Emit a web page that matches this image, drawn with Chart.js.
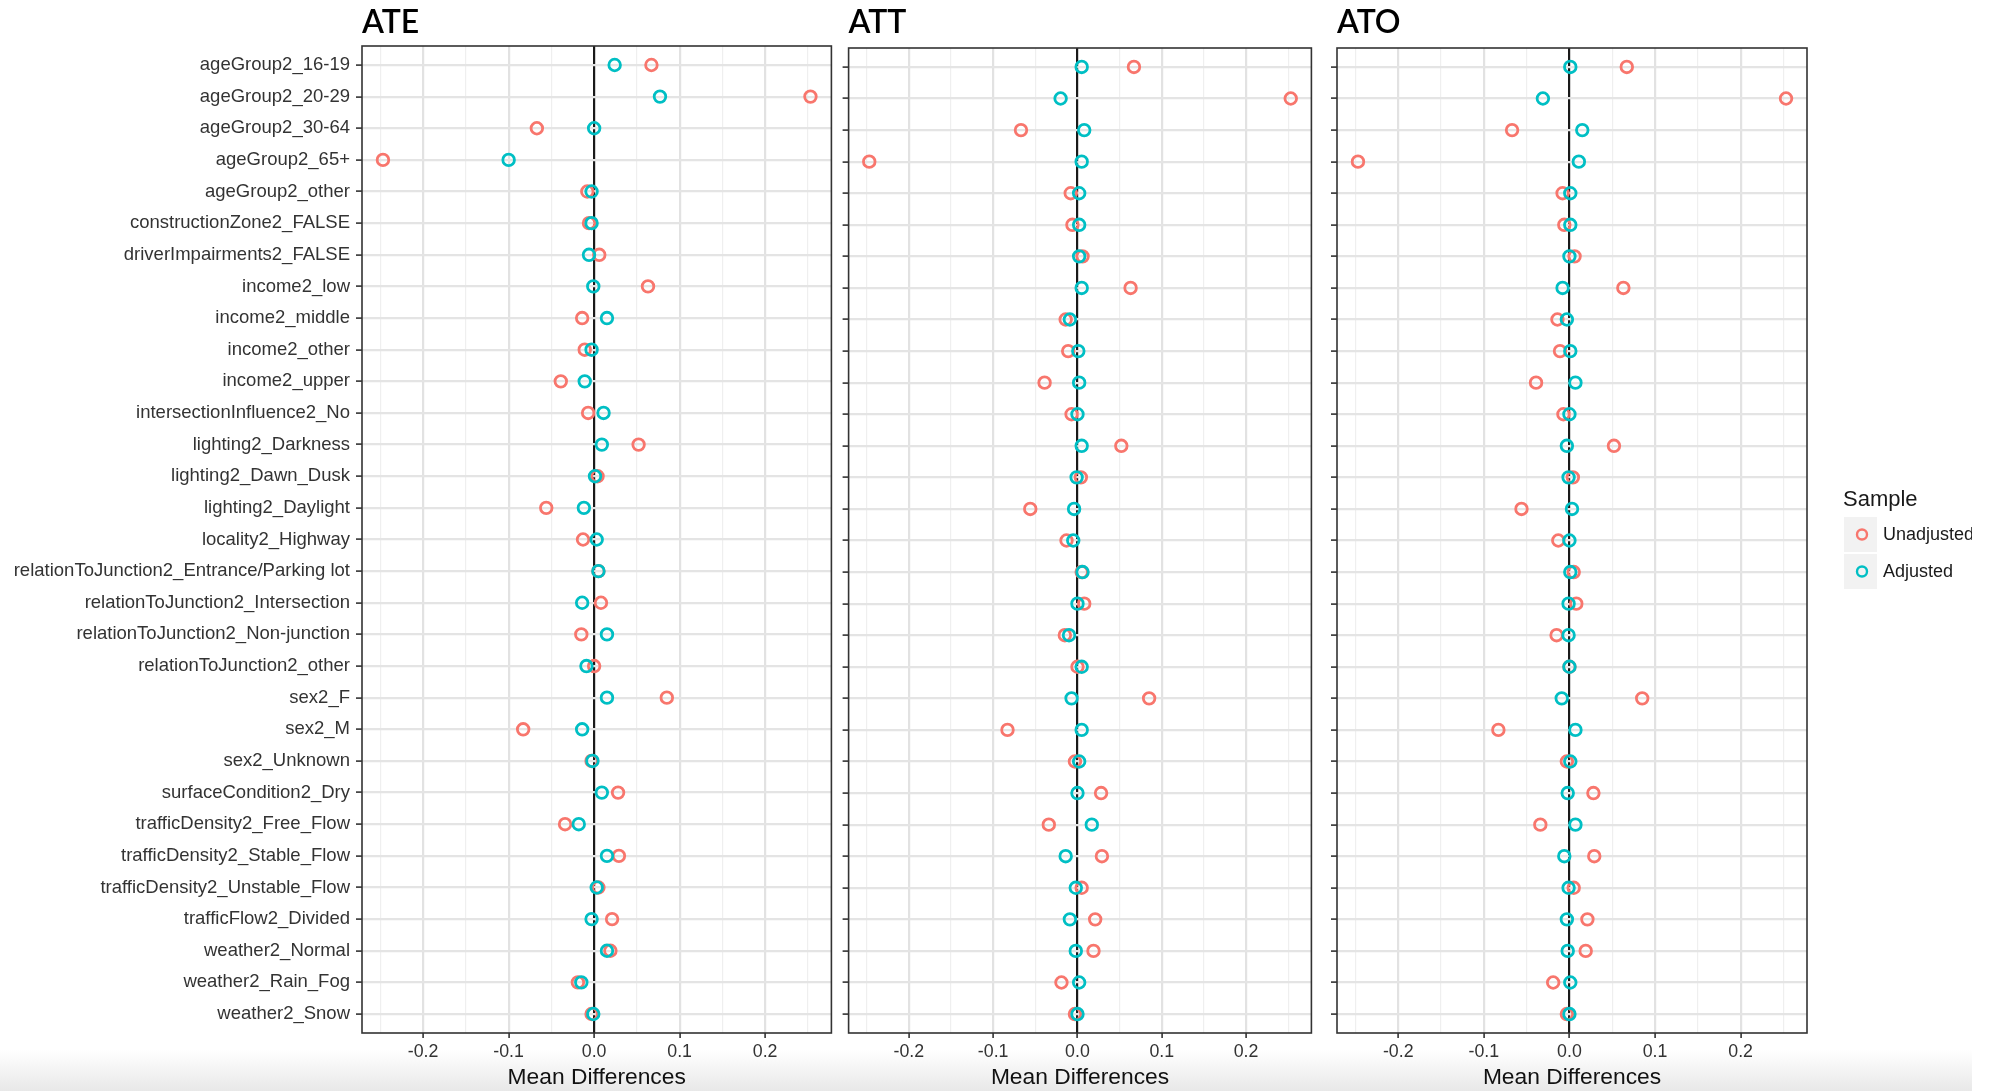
<!DOCTYPE html>
<html>
<head>
<meta charset="utf-8">
<title>Mean differences</title>
<script src="https://cdn.jsdelivr.net/npm/chart.js@4.4.1/dist/chart.umd.min.js"></script>
<style>
    html, body { margin: 0; padding: 0; background: #fff; }
    body { width: 1995px; height: 1091px; position: relative; overflow: hidden; }
    #shade { position: absolute; left: 0; top: 1050px; width: 1972px; height: 41px;
             background: linear-gradient(#ffffff, #e8e8e8); }
    canvas { position: absolute; top: 0; }
</style>
</head>
<body>
<div id="shade"></div>
<canvas id="ateChart" width="840" height="1091" style="left:0px"></canvas>
<canvas id="attChart" width="480" height="1091" style="left:840px"></canvas>
<canvas id="atoChart" width="650" height="1091" style="left:1322px"></canvas>
<script>
// Covariate levels, top to bottom
const categories = [
    'ageGroup2_16-19', 'ageGroup2_20-29', 'ageGroup2_30-64', 'ageGroup2_65+', 'ageGroup2_other',
    'constructionZone2_FALSE', 'driverImpairments2_FALSE',
    'income2_low', 'income2_middle', 'income2_other', 'income2_upper',
    'intersectionInfluence2_No', 'lighting2_Darkness', 'lighting2_Dawn_Dusk', 'lighting2_Daylight',
    'locality2_Highway',
    'relationToJunction2_Entrance/Parking lot', 'relationToJunction2_Intersection',
    'relationToJunction2_Non-junction', 'relationToJunction2_other',
    'sex2_F', 'sex2_M', 'sex2_Unknown', 'surfaceCondition2_Dry',
    'trafficDensity2_Free_Flow', 'trafficDensity2_Stable_Flow', 'trafficDensity2_Unstable_Flow',
    'trafficFlow2_Divided', 'weather2_Normal', 'weather2_Rain_Fog', 'weather2_Snow'
];

// Raw mean differences (same in all three panels)
const unadjusted = [
    0.067, 0.253, -0.067, -0.247, -0.008, -0.006, 0.006, 0.063, -0.014, -0.011, -0.039,
    -0.007, 0.052, 0.004, -0.056, -0.013, 0.005, 0.008, -0.015, 0.000, 0.085, -0.083,
    -0.003, 0.028, -0.034, 0.029, 0.005, 0.021, 0.019, -0.019, -0.003
];

// Mean differences after weighting, one list per estimand
const adjustedATE = [
    0.024, 0.077, 0.000, -0.100, -0.003, -0.003, -0.006, -0.001, 0.015, -0.003, -0.011,
    0.011, 0.009, 0.001, -0.012, 0.003, 0.005, -0.014, 0.015, -0.009, 0.015, -0.014,
    -0.002, 0.009, -0.018, 0.015, 0.003, -0.003, 0.015, -0.015, -0.001
];
const adjustedATT = [
    0.005, -0.020, 0.008, 0.005, 0.002, 0.002, 0.002, 0.005, -0.009, 0.001, 0.002,
    0.000, 0.005, -0.001, -0.004, -0.005, 0.006, 0.000, -0.010, 0.005, -0.007, 0.005,
    0.002, 0.000, 0.017, -0.014, -0.002, -0.009, -0.002, 0.002, 0.000
];
const adjustedATO = [
    0.001, -0.031, 0.015, 0.011, 0.001, 0.001, 0.000, -0.008, -0.003, 0.001, 0.007,
    0.000, -0.003, -0.001, 0.003, 0.000, 0.001, -0.001, -0.001, 0.000, -0.009, 0.007,
    0.001, -0.002, 0.007, -0.006, -0.001, -0.003, -0.002, 0.001, 0.000
];

// X axis ticks
const majorTicks = [-0.2, -0.1, 0, 0.1, 0.2];
const minorTicks = [-0.25, -0.15, -0.05, 0.05, 0.15, 0.25];
const seriesNames = ['Unadjusted', 'Adjusted'];

const X_MIN = -0.2715;
const X_MAX = 0.2775;
const RED = '#F8766D';
const TEAL = '#00BFC4';
const SANS = "'Liberation Sans', Arial, sans-serif";
const TITLE_FONT = "Lato, 'Liberation Sans', sans-serif";

const gridTicks = majorTicks.concat(minorTicks).sort((a, b) => a - b);
const isMajor = v => majorTicks.some(m => Math.abs(m - v) < 1e-9);

// Box around the plotting area, drawn over the points like ggplot's panel border
const panelBorder = {
    id: 'panelBorder',
    afterDatasetsDraw(chart) {
        const { ctx, chartArea: a } = chart;
        ctx.save();
        ctx.strokeStyle = '#333333';
        ctx.lineWidth = 1.6;
        ctx.strokeRect(a.left, a.top, a.right - a.left, a.bottom - a.top);
        ctx.restore();
    }
};

// "Sample" legend with grey key boxes, to the right of the last panel
const sampleLegend = {
    id: 'sampleLegend',
    afterDraw(chart) {
        const { ctx, chartArea: a } = chart;
        const left = a.right + 37;
        const mid = (a.top + a.bottom) / 2;
        ctx.save();
        ctx.fillStyle = '#1a1a1a';
        ctx.font = `22px ${SANS}`;
        ctx.textBaseline = 'alphabetic';
        ctx.fillText('Sample', left - 1, mid - 35);
        chart.data.datasets.forEach((ds, i) => {
            const top = mid - 23.5 + i * 37;
            ctx.fillStyle = '#f2f2f2';
            ctx.fillRect(left, top, 33, 35);
            ctx.beginPath();
            ctx.arc(left + 18, top + 17.5, 5, 0, Math.PI * 2);
            ctx.strokeStyle = ds.pointBorderColor;
            ctx.lineWidth = 2.4;
            ctx.stroke();
            ctx.fillStyle = '#1a1a1a';
            ctx.font = `18px ${SANS}`;
            ctx.textBaseline = 'middle';
            ctx.fillText(ds.label, left + 39, top + 18);
        });
        ctx.restore();
    }
};

function dotSeries(label, values, color, order) {
    return {
        label: label,
        data: values.map((v, i) => ({ x: v, y: i })),
        order: order,
        showLine: false,
        pointRadius: 5.8,
        pointBorderWidth: 2.8,
        pointBorderColor: color,
        pointBackgroundColor: 'rgba(0,0,0,0)'
    };
}

// Build one panel (ATE / ATT / ATO)
function buildPanel(canvasId, title, adjusted, box) {
    const ctx = document.getElementById(canvasId).getContext('2d');
    return new Chart(ctx, {
        type: 'scatter',
        data: {
            datasets: [
                dotSeries(seriesNames[0], unadjusted, RED, 2),
                dotSeries(seriesNames[1], adjusted, TEAL, 1)
            ]
        },
        options: {
            responsive: false,
            animation: false,
            events: [],
            layout: { padding: { left: 0, top: 0, bottom: 0, right: box.right } },
            plugins: {
                legend: { display: false },
                tooltip: { enabled: false }
            },
            scales: {
                xTop: {
                    type: 'linear',
                    position: 'top',
                    min: X_MIN,
                    max: X_MAX,
                    grid: { display: false, drawTicks: false },
                    border: { display: false },
                    ticks: { display: false },
                    title: {
                        display: true,
                        text: title,
                        align: 'start',
                        color: '#000',
                        font: { family: TITLE_FONT, size: 32, weight: '600' },
                        padding: { top: 3.6, bottom: 0 }
                    },
                    afterFit: s => { s.height = box.top; }
                },
                x: {
                    type: 'linear',
                    position: 'bottom',
                    min: X_MIN,
                    max: X_MAX,
                    afterBuildTicks: s => { s.ticks = gridTicks.map(v => ({ value: v })); },
                    ticks: {
                        autoSkip: false,
                        maxRotation: 0,
                        padding: 3,
                        color: '#333333',
                        font: { family: SANS, size: 17.8 },
                        callback: v => isMajor(v) ? v.toFixed(1) : ''
                    },
                    grid: {
                        color: c => Math.abs(c.tick.value) < 1e-9 ? '#1a1a1a'
                            : (isMajor(c.tick.value) ? '#e2e2e2' : '#efefef'),
                        lineWidth: c => Math.abs(c.tick.value) < 1e-9 ? 2.2
                            : (isMajor(c.tick.value) ? 2.2 : 1.2),
                        tickLength: 5,
                        tickWidth: 1.6,
                        tickColor: c => isMajor(c.tick.value) ? '#333333' : 'rgba(0,0,0,0)'
                    },
                    border: { display: false },
                    title: {
                        display: true,
                        text: 'Mean Differences',
                        color: '#111',
                        font: { family: SANS, size: 22.8, lineHeight: 1.2 },
                        padding: { top: 0, bottom: 0 }
                    },
                    afterFit: s => { s.height = 1091 - 1033; }
                },
                y: {
                    type: 'linear',
                    reverse: true,
                    min: -0.6,
                    max: categories.length - 1 + 0.6,
                    afterBuildTicks: s => { s.ticks = categories.map((_, i) => ({ value: i })); },
                    ticks: {
                        display: box.labels,
                        autoSkip: false,
                        padding: 6,
                        color: '#333333',
                        font: { family: SANS, size: 18.5 },
                        callback: v => categories[v]
                    },
                    grid: {
                        color: '#e4e4e4',
                        lineWidth: 2.2,
                        tickLength: 6,
                        tickWidth: 1.6,
                        tickColor: '#333333'
                    },
                    border: { display: false },
                    afterFit: s => { s.width = box.left; }
                }
            }
        },
        plugins: box.legend ? [panelBorder, sampleLegend] : [panelBorder]
    });
}

document.addEventListener('DOMContentLoaded', () => {
    buildPanel('ateChart', 'ATE', adjustedATE, { left: 362, right: 6, top: 46, labels: true });
    buildPanel('attChart', 'ATT', adjustedATT, { left: 7, right: 4, top: 48, labels: false });
    buildPanel('atoChart', 'ATO', adjustedATO, { left: 15, right: 165, top: 48, labels: false, legend: true });
});
</script>
</body>
</html>
